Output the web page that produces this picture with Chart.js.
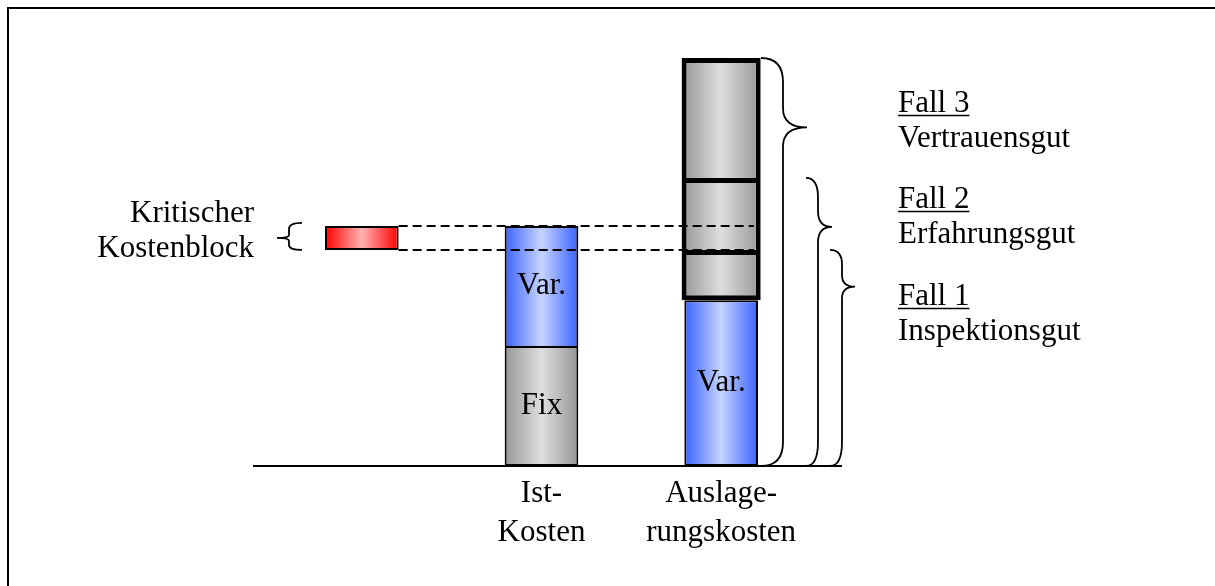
<!DOCTYPE html>
<html>
<head>
<meta charset="utf-8">
<script src="https://cdn.jsdelivr.net/npm/chart.js@4"></script>
<style>
  html, body { margin: 0; padding: 0; background: #fff; }
  #wrap { width: 1215px; height: 586px; position: relative; }
</style>
</head>
<body>
<div id="wrap"><canvas id="costChart"></canvas></div>
<script>
// categories and values (arbitrary cost units, baseline = 0)
const categories = ['Kritischer Kostenblock', 'Ist-Kosten', 'Auslagerungskosten'];
const tickLabels = [[''], ['Ist-', 'Kosten'], ['Auslage-', 'rungskosten']];
const criticalLabel = ['Kritischer', 'Kostenblock'];
const criticalBlock = [90, 100];
const istLabels = ['Fix', 'Var.'];
const istValues = [50, 50];
const auslVarLabel = 'Var.';
const auslVarValue = 69;
const fallValues = [21, 30, 50];
const fallNames = ['Fall 1', 'Fall 2', 'Fall 3'];
const fallGoods = ['Inspektionsgut', 'Erfahrungsgut', 'Vertrauensgut'];
const fallLabelAt = [67, 107.5, 147.5];
const yMax = 190;

const FONT = '31px "Liberation Serif", "Times New Roman", serif';
const BAR = 0.41;
const BAR_THICK = 0.44;

function grad(edge, light) {
    return function(ctx) {
        const chart = ctx.chart;
        if (!chart.chartArea || ctx.dataIndex === undefined) return edge;
        const xs = chart.scales.x;
        const pct = ctx.dataset.barPercentage || BAR;
        const half = xs.width / categories.length * pct / 2;
        const cx = xs.getPixelForValue(ctx.dataIndex);
        const g = chart.ctx.createLinearGradient(cx - half, 0, cx + half, 0);
        g.addColorStop(0, edge);
        g.addColorStop(0.5, light);
        g.addColorStop(1, edge);
        return g;
    };
}
const blue = grad('rgb(58,98,255)', 'rgb(198,212,255)');
const gray = grad('rgb(150,150,150)', 'rgb(222,222,222)');
const red = grad('rgb(255,0,0)', 'rgb(255,178,178)');

// build floating ranges from segment heights
const istRanges = [];
let acc = 0;
istValues.forEach(v => { istRanges.push([acc, acc + v]); acc += v; });
const auslRanges = [[0, auslVarValue]];
acc = auslVarValue;
fallValues.forEach(v => { auslRanges.push([acc, acc + v]); acc += v; });

const datasets = [
    {
        label: 'Kritischer Kostenblock',
        data: [criticalBlock, null, null],
        backgroundColor: red, borderColor: '#000', borderWidth: 2, borderSkipped: false
    },
    {
        label: istLabels[0],
        data: [null, istRanges[0], null],
        backgroundColor: gray, borderColor: '#000', borderWidth: 2, borderSkipped: false
    },
    {
        label: istLabels[1],
        data: [null, istRanges[1], null],
        backgroundColor: blue, borderColor: '#000', borderWidth: 2, borderSkipped: 'bottom'
    },
    {
        label: auslVarLabel,
        data: [null, null, auslRanges[0]],
        backgroundColor: blue, borderColor: '#000', borderWidth: 2, borderSkipped: false
    }
];
fallNames.forEach((name, i) => {
    datasets.push({
        label: name,
        data: [null, null, auslRanges[i + 1]],
        backgroundColor: gray, borderColor: '#000', borderWidth: 5,
        borderSkipped: i === 0 ? false : 'bottom',
        barPercentage: BAR_THICK
    });
});

function rightBrace(ctx, x0, xa, xt, yTop, yTip, yBot) {
    const r1 = Math.min(24, (yTip - yTop) * 0.4);
    const r2 = Math.min(24, (yBot - yTip) * 0.4);
    ctx.beginPath();
    ctx.moveTo(x0, yTop);
    ctx.quadraticCurveTo(xa, yTop, xa, yTop + r1);
    ctx.lineTo(xa, yTip - r1 * 0.8);
    ctx.quadraticCurveTo(xa, yTip, xt, yTip);
    ctx.quadraticCurveTo(xa, yTip, xa, yTip + r1 * 0.8);
    ctx.lineTo(xa, yBot - r2);
    ctx.quadraticCurveTo(xa, yBot, x0, yBot);
    ctx.stroke();
}

const decorations = {
    id: 'decorations',
    beforeDraw(chart) {
        const c = chart.ctx;
        c.save();
        c.fillStyle = '#000';
        c.fillRect(7, 7, 2, chart.height);
        c.fillRect(7, 7, chart.width, 2);
        c.restore();
    },
    afterDatasetsDraw(chart) {
        const c = chart.ctx;
        const xs = chart.scales.x, ys = chart.scales.y;
        const catW = xs.width / categories.length;
        const half = catW * BAR / 2;
        const redLeft = xs.getPixelForValue(0) - half;
        const redRight = xs.getPixelForValue(0) + half;
        const istX = xs.getPixelForValue(1);
        const auslX = xs.getPixelForValue(2);
        const auslRight = auslX + half;
        const y0 = ys.getPixelForValue(0);
        c.save();
        c.strokeStyle = '#000';
        c.fillStyle = '#000';

        // dashed lines from the critical block
        c.lineWidth = 2;
        c.setLineDash([9, 5]);
        criticalBlock.forEach(v => {
            const y = ys.getPixelForValue(v);
            c.beginPath();
            c.moveTo(redRight, y);
            c.lineTo(auslRight - 4, y);
            c.stroke();
        });
        c.setLineDash([]);

        // segment labels
        c.font = FONT;
        c.textAlign = 'center';
        c.textBaseline = 'middle';
        istRanges.forEach((r, i) => {
            c.fillText(istLabels[i], istX, ys.getPixelForValue((r[0] + r[1]) / 2));
        });
        c.fillText(auslVarLabel, auslX, ys.getPixelForValue(auslVarValue / 2));

        // braces for the three cases
        const offs = [[72, 84, 97], [48, 60, 74], [3, 25, 49]];
        c.lineWidth = 1.8;
        fallNames.forEach((name, i) => {
            const yTop = ys.getPixelForValue(auslRanges[i + 1][1]);
            const yTip = yTop + (y0 - yTop) * 0.17;
            const o = offs[i];
            rightBrace(c, auslRight + o[0], auslRight + o[1], auslRight + o[2], yTop, yTip, y0);
        });

        // baseline
        c.lineWidth = 2;
        c.beginPath();
        c.moveTo(xs.left - 19, y0);
        c.lineTo(auslRight + offs[0][1], y0);
        c.stroke();

        // case labels
        c.textAlign = 'left';
        c.textBaseline = 'alphabetic';
        const tx = auslRight + 140;
        fallNames.forEach((name, i) => {
            const y = ys.getPixelForValue(fallLabelAt[i]);
            c.fillText(name, tx, y);
            const w = c.measureText(name).width;
            c.lineWidth = 1.5;
            c.beginPath();
            c.moveTo(tx, y + 3.5);
            c.lineTo(tx + w, y + 3.5);
            c.stroke();
            c.fillText(fallGoods[i], tx, y + 35);
        });

        // critical block label and small brace
        const yA = ys.getPixelForValue(criticalBlock[1]);
        const yB = ys.getPixelForValue(criticalBlock[0]);
        const yMid = (yA + yB) / 2;
        c.textAlign = 'right';
        c.fillText(criticalLabel[0], redLeft - 71, yMid - 16);
        c.fillText(criticalLabel[1], redLeft - 71, yMid + 19);
        c.lineWidth = 1.8;
        const bx0 = redLeft - 23, bxa = redLeft - 36, bxt = redLeft - 48;
        c.beginPath();
        c.moveTo(bx0, yA - 3);
        c.quadraticCurveTo(bxa, yA - 3, bxa, yA + 3);
        c.lineTo(bxa, yMid - 3);
        c.quadraticCurveTo(bxa, yMid, bxt, yMid);
        c.quadraticCurveTo(bxa, yMid, bxa, yMid + 3);
        c.lineTo(bxa, yB - 5);
        c.quadraticCurveTo(bxa, yB, bx0, yB);
        c.stroke();
        c.restore();
    }
};

new Chart(document.getElementById('costChart').getContext('2d'), {
    type: 'bar',
    data: {
        labels: categories,
        datasets: datasets
    },
    options: {
        responsive: true,
        maintainAspectRatio: false,
        animation: false,
        layout: { padding: { left: 272, right: 404, top: 10, bottom: 26 } },
        plugins: {
            legend: { display: false },
            tooltip: { enabled: false }
        },
        datasets: {
            bar: { grouped: false, categoryPercentage: 1, barPercentage: BAR }
        },
        scales: {
            x: {
                grid: { display: false, drawTicks: false },
                border: { display: false },
                ticks: {
                    color: '#000',
                    font: { family: '"Liberation Serif", "Times New Roman", serif', size: 31, lineHeight: 1.26 },
                    padding: 8,
                    maxRotation: 0,
                    autoSkip: false,
                    callback: function(value, index) {
                        return tickLabels[index];
                    }
                }
            },
            y: { display: false, min: 0, max: yMax }
        }
    },
    plugins: [decorations]
});
</script>
</body>
</html>
